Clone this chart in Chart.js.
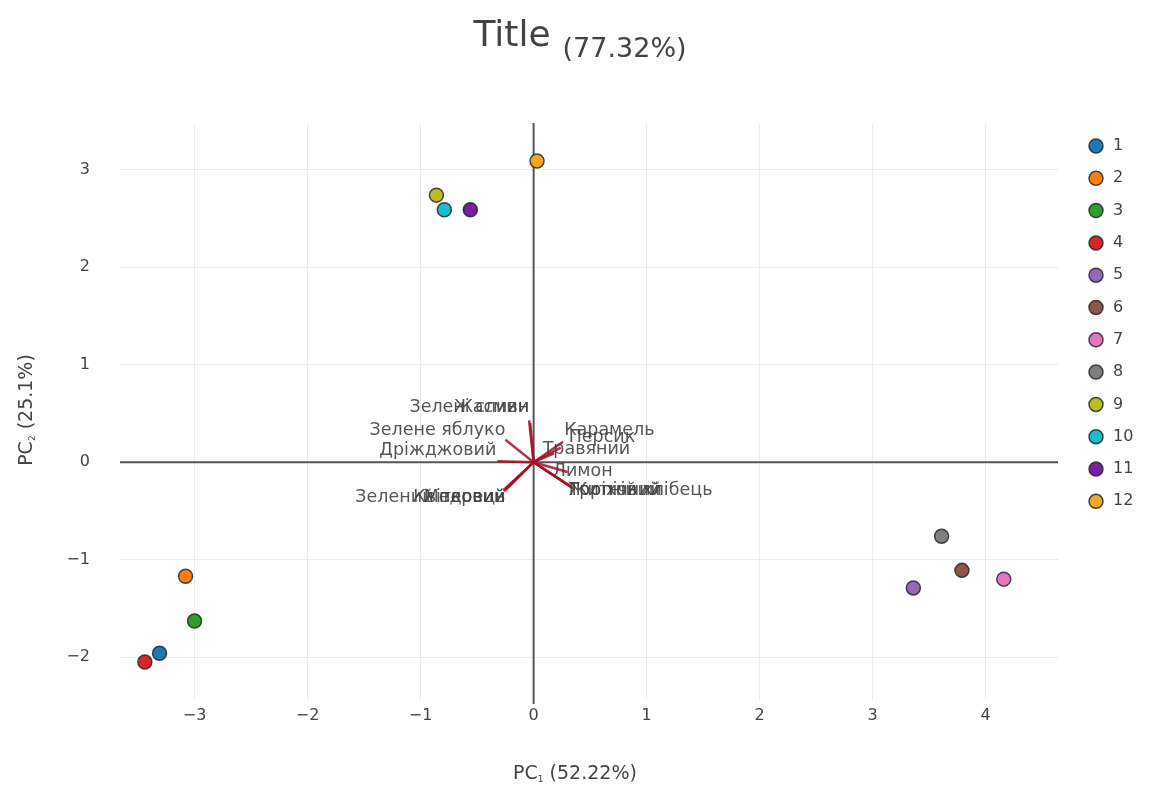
<!DOCTYPE html>
<html>
<head>
<meta charset="utf-8">
<script src="https://cdn.jsdelivr.net/npm/chart.js@4"></script>
<style>
html,body{margin:0;padding:0;background:#fff;}
#wrap{width:1171px;height:787px;}
</style>
</head>
<body>
<div id="wrap"><canvas id="c" width="1171" height="787"></canvas></div>
<script>
// ---- data ----
const samples = ['1','2','3','4','5','6','7','8','9','10','11','12'];
const pc1 = [-3.31, -3.08, -3.00, -3.44, 3.36, 3.79, 4.16, 3.61, -0.86, -0.79, -0.56, 0.03];
const pc2 = [-1.96, -1.17, -1.63, -2.05, -1.29, -1.11, -1.20, -0.76, 2.74, 2.59, 2.59, 3.09];
const sampleColors = ['#1f77b4','#ff7f0e','#2ca02c','#d62728','#9467bd','#8c564b','#e377c2','#7f7f7f','#bcbd22','#17becf','#7b1fa2','#f5a623'];

const loadingNames = ['Жасмин','Зелені сливи','Зелене яблуко','Дріжджовий','Зелений перець','Квітковий','Медовий','Карамель','Персик','Травяний','Лимон','Тропічний','Горіховий','Житній хлібець'];
const loadingX = [-0.04, -0.03, -0.25, -0.32, -0.27, -0.25, -0.26, 0.26, 0.24, 0.18, 0.30, 0.33, 0.34, 0.35];
const loadingY = [0.43, 0.40, 0.23, 0.01, -0.29, -0.28, -0.30, 0.21, 0.15, 0.09, -0.10, -0.25, -0.26, -0.27];
const labelX = [-0.04, -0.04, -0.25, -0.33, -0.25, -0.25, -0.25, 0.27, 0.31, 0.08, 0.17, 0.31, 0.31, 0.31];
const labelY = [0.56, 0.56, 0.33, 0.12, -0.36, -0.36, -0.36, 0.33, 0.25, 0.13, -0.10, -0.29, -0.29, -0.29];

const xTicks = [-3, -2, -1, 0, 1, 2, 3, 4];
const yTicks = [-2, -1, 0, 1, 2, 3];
const titleMain = 'Title';
const titleSub = '(77.32%)';
const xTitle = ['PC', '1', ' (52.22%)'];
const yTitle = ['PC', '2', ' (25.1%)'];

const FONT = '"DejaVu Sans", Verdana, sans-serif';
const TXT = '#444';

const datasets = [];
samples.forEach((s, i) => {
  datasets.push({
    label: s,
    data: [{x: pc1[i], y: pc2[i]}],
    backgroundColor: sampleColors[i],
    borderColor: 'rgba(40,40,40,0.85)',
    borderWidth: 1.5,
    pointRadius: 7,
    pointHoverRadius: 7,
    order: 0
  });
});
loadingNames.forEach((n, i) => {
  datasets.push({
    label: n,
    data: [{x: 0, y: 0}, {x: loadingX[i], y: loadingY[i]}],
    showLine: true,
    borderColor: 'rgba(165,16,36,0.85)',
    borderWidth: 2.5,
    pointRadius: 0,
    order: 1
  });
});

const minus = v => String(v).replace('-', '\u2212');

const overlay = {
  id: 'overlay',
  beforeDatasetsDraw(chart) {
    const {ctx, chartArea: a, scales: {x, y}} = chart;
    ctx.save();
    ctx.strokeStyle = '#555';
    ctx.lineWidth = 2;
    const y0 = y.getPixelForValue(0), x0 = x.getPixelForValue(0);
    ctx.beginPath(); ctx.moveTo(a.left, y0); ctx.lineTo(a.right, y0); ctx.stroke();
    ctx.beginPath(); ctx.moveTo(x0, a.top); ctx.lineTo(x0, a.bottom + 4); ctx.stroke();
    ctx.restore();
  },
  afterDatasetsDraw(chart) {
    const {ctx, scales: {x, y}} = chart;
    ctx.save();
    ctx.font = '17.5px ' + FONT;
    ctx.fillStyle = 'rgba(68,68,68,0.9)';
    ctx.textBaseline = 'middle';
    loadingNames.forEach((n, i) => {
      ctx.textAlign = loadingX[i] < 0 ? 'right' : 'left';
      ctx.fillText(n, x.getPixelForValue(labelX[i]), y.getPixelForValue(labelY[i]));
    });
    ctx.restore();
  },
  afterDraw(chart) {
    const {ctx} = chart;
    ctx.save();
    ctx.fillStyle = TXT;
    // title
    ctx.textBaseline = 'alphabetic';
    ctx.textAlign = 'left';
    ctx.font = '36px ' + FONT;
    const w1 = ctx.measureText(titleMain).width;
    ctx.font = '27px ' + FONT;
    const w2 = ctx.measureText(titleSub).width;
    const gap = 12;
    let tx = 580 - (w1 + gap + w2) / 2;
    ctx.font = '36px ' + FONT;
    ctx.fillText(titleMain, tx, 46);
    ctx.font = '27px ' + FONT;
    ctx.fillText(titleSub, tx + w1 + gap, 57);

    // axis titles with subscript
    function drawSubTitle(parts, cx, cy) {
      ctx.font = '19px ' + FONT;
      const a1 = ctx.measureText(parts[0]).width;
      const a3 = ctx.measureText(parts[2]).width;
      ctx.font = '9px ' + FONT;
      const a2 = ctx.measureText(parts[1]).width;
      const total = a1 + a2 + a3;
      let px = cx - total / 2;
      ctx.textAlign = 'left';
      ctx.textBaseline = 'alphabetic';
      ctx.font = '19px ' + FONT;
      ctx.fillText(parts[0], px, cy);
      ctx.font = '9px ' + FONT;
      ctx.fillText(parts[1], px + a1, cy + 3);
      ctx.font = '19px ' + FONT;
      ctx.fillText(parts[2], px + a1 + a2, cy);
    }
    drawSubTitle(xTitle, 575, 779);
    ctx.save();
    ctx.translate(32, 410);
    ctx.rotate(-Math.PI / 2);
    drawSubTitle(yTitle, 0, 0);
    ctx.restore();

    // legend
    const lx = 1096, ly0 = 146, step = 32.3;
    samples.forEach((s, i) => {
      const cy = ly0 + i * step;
      ctx.beginPath();
      ctx.arc(lx, cy, 7, 0, Math.PI * 2);
      ctx.fillStyle = sampleColors[i];
      ctx.fill();
      ctx.lineWidth = 1.5;
      ctx.strokeStyle = 'rgba(40,40,40,0.85)';
      ctx.stroke();
      ctx.fillStyle = TXT;
      ctx.font = '16px ' + FONT;
      ctx.textAlign = 'left';
      ctx.textBaseline = 'middle';
      ctx.fillText(s, 1113, cy);
    });
    ctx.restore();
  }
};

new Chart(document.getElementById('c'), {
  type: 'scatter',
  data: { datasets },
  plugins: [overlay],
  options: {
    responsive: false,
    animation: false,
    layout: { padding: { left: 0, right: 113, top: 123, bottom: 0 } },
    plugins: { legend: { display: false }, tooltip: { enabled: false }, title: { display: false } },
    scales: {
      x: {
        type: 'linear', min: -3.66, max: 4.64,
        afterFit(s) { s.height = 87; },
        afterBuildTicks(s) { s.ticks = xTicks.map(v => ({value: v})); },
        grid: { color: '#ececec', lineWidth: 1, drawTicks: false },
        border: { display: false },
        ticks: { padding: 6, color: TXT, font: { family: FONT, size: 16 }, callback: v => minus(v), maxRotation: 0 }
      },
      y: {
        type: 'linear', min: -2.44, max: 3.48,
        afterFit(s) { s.width = 120; },
        afterBuildTicks(s) { s.ticks = yTicks.map(v => ({value: v})); },
        grid: { color: '#ececec', lineWidth: 1, drawTicks: false },
        border: { display: false },
        ticks: { padding: 30, color: TXT, font: { family: FONT, size: 16 }, callback: v => minus(v) }
      }
    }
  }
});
</script>
</body>
</html>
